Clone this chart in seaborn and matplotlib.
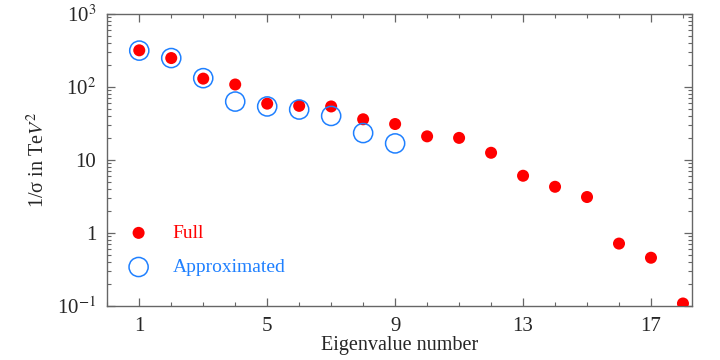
import matplotlib
matplotlib.use("Agg")
import matplotlib.pyplot as plt
import matplotlib.ticker as mticker
import pandas as pd
import seaborn as sns

# ─── Datos ────────────────────────────────────────────────────────────────────
eig_full = list(range(1, 19))
val_full = [318, 249, 130, 108, 59, 55, 54, 36, 31, 21, 20, 12.5,
            6.05, 4.27, 3.09, 0.71, 0.454, 0.107]
eig_approx = list(range(1, 10))
val_approx = [315, 249, 132, 63, 54, 49, 40, 23.3, 16.8]

x_ticks = [1, 5, 9, 13, 17]
y_ticks = [0.1, 1, 10, 100, 1000]
y_labels = ["10$^{-1}$", "1", "10", "10$^{2}$", "10$^{3}$"]

ROJO = "#ff0000"
AZUL = "#1f80ff"

# ─── Estilo ───────────────────────────────────────────────────────────────────
sns.set_style("ticks")
plt.rcParams["font.family"] = ["Liberation Serif", "DejaVu Serif"]
plt.rcParams["mathtext.fontset"] = "stix"
plt.rcParams["font.size"] = 12

df_full = pd.DataFrame({"eig": eig_full, "val": val_full})
df_approx = pd.DataFrame({"eig": eig_approx, "val": val_approx})

fig = plt.figure(figsize=(7.2, 3.6), dpi=100)
ax = fig.add_axes([0.149, 0.151, 0.812, 0.810])

sns.scatterplot(data=df_full, x="eig", y="val", ax=ax, color=ROJO,
                s=75, edgecolor="none", label="Full", zorder=3)
sns.scatterplot(data=df_approx, x="eig", y="val", ax=ax, marker="o",
                s=190, facecolor="none", edgecolor=AZUL, linewidth=1.1,
                label="Approximated", zorder=4)

ax.set_yscale("log")
ax.set_xlim(0, 18.28)
ax.set_ylim(0.1, 1000)

ax.xaxis.set_major_locator(mticker.FixedLocator(x_ticks))
ax.xaxis.set_minor_locator(mticker.MultipleLocator(1))
ax.yaxis.set_major_locator(mticker.FixedLocator(y_ticks))
ax.yaxis.set_major_formatter(mticker.FixedFormatter(y_labels))
ax.yaxis.set_minor_locator(mticker.LogLocator(base=10, subs=range(2, 10)))
ax.yaxis.set_minor_formatter(mticker.NullFormatter())

ax.tick_params(which="both", direction="in", top=True, right=True,
               color="#666666", labelsize=15)
ax.tick_params(axis="x", which="major", pad=8)
ax.tick_params(axis="y", which="major", pad=8)
ax.tick_params(which="major", length=6, width=0.9)
ax.tick_params(which="minor", length=3, width=0.8)
for sp in ax.spines.values():
    sp.set_color("#666666")
    sp.set_linewidth(1.0)

ax.set_xlabel("Eigenvalue number", fontsize=14.5, labelpad=0)
ax.set_ylabel("1/σ in Te$V^2$", fontsize=14.5, labelpad=6)

ax.legend(loc="center left", bbox_to_anchor=(0.007, 0.19), frameon=False,
          labelcolor=[ROJO, AZUL], fontsize=14, handletextpad=0.75,
          labelspacing=0.85, borderaxespad=0.0)

plt.savefig("out.png", dpi=100)
plt.close()
